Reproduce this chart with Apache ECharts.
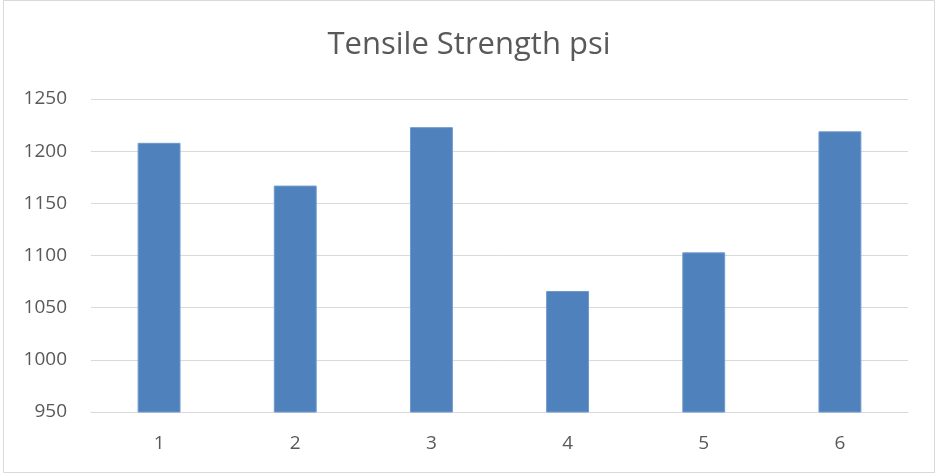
<!DOCTYPE html>
<html>
<head>
<meta charset="utf-8">
<script src="https://cdn.jsdelivr.net/npm/echarts@6/dist/echarts.min.js"></script>
<style>
  html, body { margin: 0; padding: 0; background: #fff; }
  #chart { width: 938px; height: 475px; }
</style>
</head>
<body>
<div id="chart"></div>
<script>
// Tensile strength per specimen
const specimens = ['1', '2', '3', '4', '5', '6'];
const strengthPsi = [1208, 1167, 1223, 1066, 1103, 1219];
const yTicks = [950, 1000, 1050, 1100, 1150, 1200, 1250];

const chart = echarts.init(document.getElementById('chart'), null, { renderer: 'canvas' });
const font = '"Open Sans", "Noto Sans", sans-serif';

chart.setOption({
  animation: false,
  backgroundColor: '#ffffff',
  title: {
    text: 'Tensile Strength psi',
    left: 'center',
    top: 25,
    textStyle: { fontFamily: font, fontSize: 31, fontWeight: 'normal', color: '#595959' }
  },
  graphic: [{
    type: 'rect',
    silent: true,
    shape: { x: 3.5, y: 0.5, width: 931, height: 472 },
    style: { fill: 'none', stroke: '#d9d9d9', lineWidth: 1 }
  }],
  grid: { left: 91, right: 30, top: 99, bottom: 63 },
  xAxis: {
    type: 'category',
    data: specimens,
    axisLine: { show: true, lineStyle: { color: '#d9d9d9', width: 1 } },
    axisTick: { show: false },
    axisLabel: { fontFamily: font, fontSize: 19, color: '#595959', margin: 22 }
  },
  yAxis: {
    type: 'value',
    min: yTicks[0],
    max: yTicks[yTicks.length - 1],
    interval: 50,
    axisLine: { show: false },
    axisTick: { show: false },
    splitLine: { lineStyle: { color: '#d9d9d9', width: 1 } },
    axisLabel: {
      fontFamily: font, fontSize: 19, color: '#595959', margin: 24,
      formatter: (v) => String(v)
    }
  },
  series: [{
    type: 'bar',
    data: strengthPsi,
    barWidth: '31.5%',
    itemStyle: { color: '#4f81bd', borderColor: '#6f99cc', borderWidth: 1 }
  }]
});
</script>
</body>
</html>
